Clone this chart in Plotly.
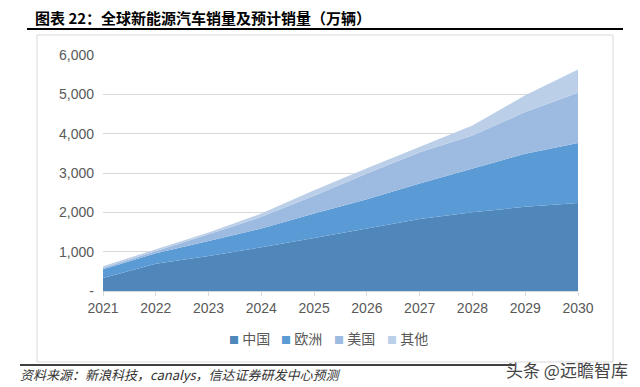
import plotly.graph_objects as go

years = [2021, 2022, 2023, 2024, 2025, 2026, 2027, 2028, 2029, 2030]
china = [330, 690, 890, 1110, 1350, 1590, 1830, 2000, 2140, 2240]
europe = [220, 270, 380, 480, 620, 740, 900, 1110, 1350, 1520]
usa = [40, 55, 170, 295, 450, 660, 800, 845, 1060, 1280]
others = [40, 45, 50, 85, 140, 130, 145, 255, 425, 590]
series_names = ["中国", "欧洲", "美国", "其他"]
colors = ["#4f87bb", "#5b9bd5", "#9dbbe0", "#bccfe9"]
y_ticks = [0, 1000, 2000, 3000, 4000, 5000, 6000]
y_tick_labels = ["-", "1,000", "2,000", "3,000", "4,000", "5,000", "6,000"]

W, H = 640, 387
L, R, T, B = 103, 62, 55, 96
PW, PH = W - L - R, H - T - B


def px(x):
    return (x - L) / PW


def py(y):
    return (H - B - y) / PH


fig = go.Figure()
for name, vals, col in zip(series_names, [china, europe, usa, others], colors):
    fig.add_trace(go.Scatter(
        x=years, y=vals, name=name, stackgroup="one", mode="lines",
        line=dict(width=0, color=col), fillcolor=col, showlegend=False,
    ))

font_cjk = "Noto Sans CJK SC"
fig.update_layout(
    width=W, height=H,
    margin=dict(l=L, r=R, t=T, b=B),
    paper_bgcolor="white", plot_bgcolor="white",
    showlegend=False,
    xaxis=dict(range=[2021, 2030], tickvals=years, ticktext=[str(y) for y in years],
               showgrid=False, showline=True, linecolor="#d9d9d9", linewidth=1,
               ticks="outside", ticklen=4, tickcolor="#d9d9d9",
               tickfont=dict(family="Liberation Sans", size=14, color="#595959")),
    yaxis=dict(range=[0, 6000], tickvals=y_ticks, ticktext=y_tick_labels,
               showgrid=True, gridcolor="#d9d9d9", gridwidth=1, zeroline=False,
               showline=False, ticks="", ticklabelstandoff=8,
               tickfont=dict(family="Liberation Sans", size=14, color="#595959")),
)

shapes = [
    dict(type="line", xref="paper", yref="paper", x0=px(27), x1=px(623),
         y0=py(29), y1=py(29), line=dict(color="black", width=2)),
    dict(type="rect", xref="paper", yref="paper",
         x0=px(37), x1=px(613), y0=py(362), y1=py(35),
         line=dict(color="#d9d9d9", width=1)),
    dict(type="line", xref="paper", yref="paper",
         x0=px(20), x1=px(515), y0=py(365), y1=py(365),
         line=dict(color="black", width=1.5)),
]
fig.update_layout(shapes=shapes)

# legend (compact square markers like the reference)
legend_x = [227, 279, 332, 385]
for name, col, lx in zip(series_names, colors, legend_x):
    fig.add_annotation(xref="paper", yref="paper", x=px(lx), y=py(338),
                       xanchor="left", yanchor="middle", showarrow=False,
                       text=f'<span style="color:{col};font-size:10px">■</span> {name}',
                       font=dict(family=font_cjk, size=14, color="#595959"))

fig.add_annotation(xref="paper", yref="paper", x=px(33), y=py(17),
                   xanchor="left", yanchor="middle", showarrow=False,
                   text="<b>图表 22：全球新能源汽车销量及预计销量（万辆）</b>",
                   font=dict(family=font_cjk, size=15, color="black"))
fig.add_annotation(xref="paper", yref="paper", x=px(18), y=py(374),
                   xanchor="left", yanchor="middle", showarrow=False,
                   text="<i>资料来源：新浪科技，canalys，信达证券研发中心预测</i>",
                   font=dict(family=font_cjk, size=13, color="#333333"))
fig.add_annotation(xref="paper", yref="paper", x=px(630), y=py(369),
                   xanchor="right", yanchor="middle", showarrow=False,
                   text="头条 @远瞻智库",
                   font=dict(family=font_cjk, size=17, color="#444444"))

fig.write_html("out.html", config={"displayModeBar": False},
               post_script="document.body.style.margin='0px';")
